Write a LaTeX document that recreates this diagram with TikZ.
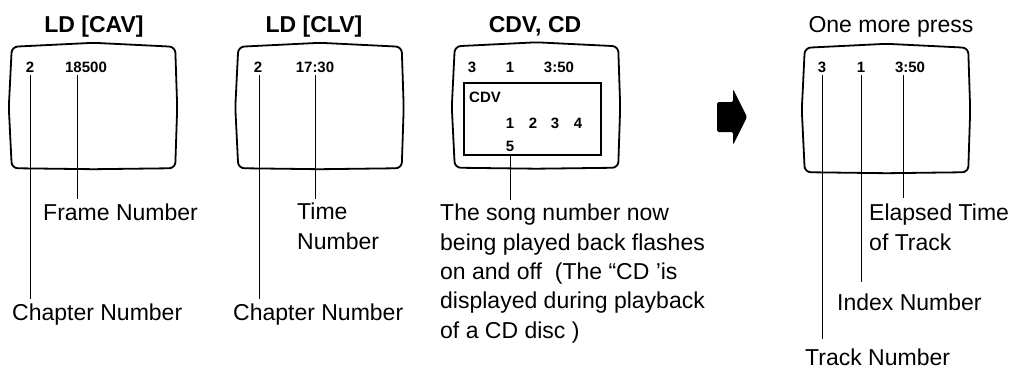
\documentclass[tikz,border=0pt]{standalone}
\usepackage{fontspec}
\setmainfont{Liberation Sans}

\begin{document}
\begin{tikzpicture}[x=1pt,y=-1pt,
  screen/.style={minimum width=163pt,minimum height=121pt,inner sep=0pt},
  tvline/.style={line width=1.8pt,rounded corners=6pt,line join=round},
  digit/.style={font=\fontsize{15}{18}\selectfont\bfseries,anchor=base,inner sep=3pt},
  title/.style={font=\fontsize{23}{29}\selectfont\bfseries,anchor=base},
  label/.style={font=\fontsize{23}{29.3}\selectfont,anchor=base west,align=left,
    inner xsep=0pt,inner ysep=4pt},
  lead/.style={line width=0.8pt}]

\useasboundingbox (0,0) rectangle (1011,368);

%---------------------------------
% TITLES
%---------------------------------
\node[title] (tcav) at (94,32) {LD [CAV]};
\node[title] (tclv) at (314,32) {LD [CLV]};
\node[title] (tcdv) at (535,32) {CDV, CD};
\node[title,font=\fontsize{23}{29}\selectfont,anchor=base west] (tmore) at (805,32) {One more press};

%---------------------------------
% SCREENS
%---------------------------------
\node[screen] (cav) at (93.5,107.5) {};
\node[screen] (clv) at (320,107.5) {};
\node[screen] (cdv) at (536.5,107) {};
\node[screen,minimum height=124pt] (more) at (886.5,110) {};

% outline of each screen, slightly bulging
\foreach \s in {cav,clv,cdv,more}
  \draw[tvline] (\s.north west) -- ([yshift=4pt]\s.north) -- (\s.north east)
    -- ([xshift=2pt]\s.east) -- (\s.south east) -- ([yshift=-1pt]\s.south)
    -- (\s.south west) -- ([xshift=-3pt]\s.west) -- cycle;

% song list window
\node[draw,line width=1.2pt,minimum width=137pt,minimum height=72pt,inner sep=0pt]
  (cdvlist) at (532.5,119) {};

%---------------------------------
% SCREEN TEXTS
%---------------------------------
\node[digit] (cavch) at (30,72) {2};
\node[digit] (cavfr) at (86,72) {18500};

\node[digit] (clvch) at (258,72) {2};
\node[digit] (clvtm) at (315,72) {17:30};

\node[digit] (cdvtr) at (472,72) {3};
\node[digit] (cdvix) at (510,72) {1};
\node[digit] (cdvtm) at (559,72) {3:50};
\node[digit,anchor=base west,inner xsep=0pt] (cdvname) at (469,102) {CDV};
\foreach \n/\x in {1/510,2/533,3/555,4/578}
  \node[digit] (song\n) at (\x,128) {\n};
\node[digit] (song5) at (510,151) {5};

\node[digit] (moretr) at (822,72) {3};
\node[digit] (moreix) at (861,72) {1};
\node[digit] (moretm) at (910,72) {3:50};

%---------------------------------
% ARROW
%---------------------------------
\fill[rounded corners=1.5pt] (717,102) -- (733,102) -- (733,89) -- (747,117)
  -- (733,145) -- (733,132) -- (717,132) -- cycle;

%---------------------------------
% LABELS (base = last line)
%---------------------------------
\node[label] (cavfrlab) at (43,220) {Frame Number};
\node[label] (cavchlab) at (12,320) {Chapter Number};

\node[label] (clvtmlab) at (297,249) {Time\\Number};
\node[label] (clvchlab) at (233,320) {Chapter Number};

\node[label] (songlab) at (440,338)
{The song number now\\being played back flashes\\on and off\ \ (The “CD ’is\\displayed during playback\\of a CD disc )};

\node[label] (moretmlab) at (869,250) {Elapsed Time\\of Track};
\node[label] (moreixlab) at (837,310) {Index Number};
\node[label] (moretrlab) at (805,365) {Track Number};

%---------------------------------
% LEADER LINES
%---------------------------------
\draw[lead] (cavch.south) -- (cavch.south |- cavchlab.north);
\draw[lead] ([xshift=-9pt]cavfr.south) -- ([xshift=-9pt]cavfr.south |- cavfrlab.north);
\draw[lead] ([xshift=1pt]clvch.south) -- ([xshift=1pt]clvch.south |- clvchlab.north);
\draw[lead] (clvtm.south) -- (clvtm.south |- clvtmlab.north);
\draw[lead] (song5.south) -- (song5.south |- songlab.north);
\draw[lead] (moretr.south) -- ([yshift=5pt]moretr.south |- moretrlab.north);
\draw[lead] (moreix.south) -- ([yshift=7pt]moreix.south |- moreixlab.north);
\draw[lead] ([xshift=-7pt]moretm.south) -- ([xshift=-7pt,yshift=2pt]moretm.south |- moretmlab.north);

\end{tikzpicture}
\end{document}
